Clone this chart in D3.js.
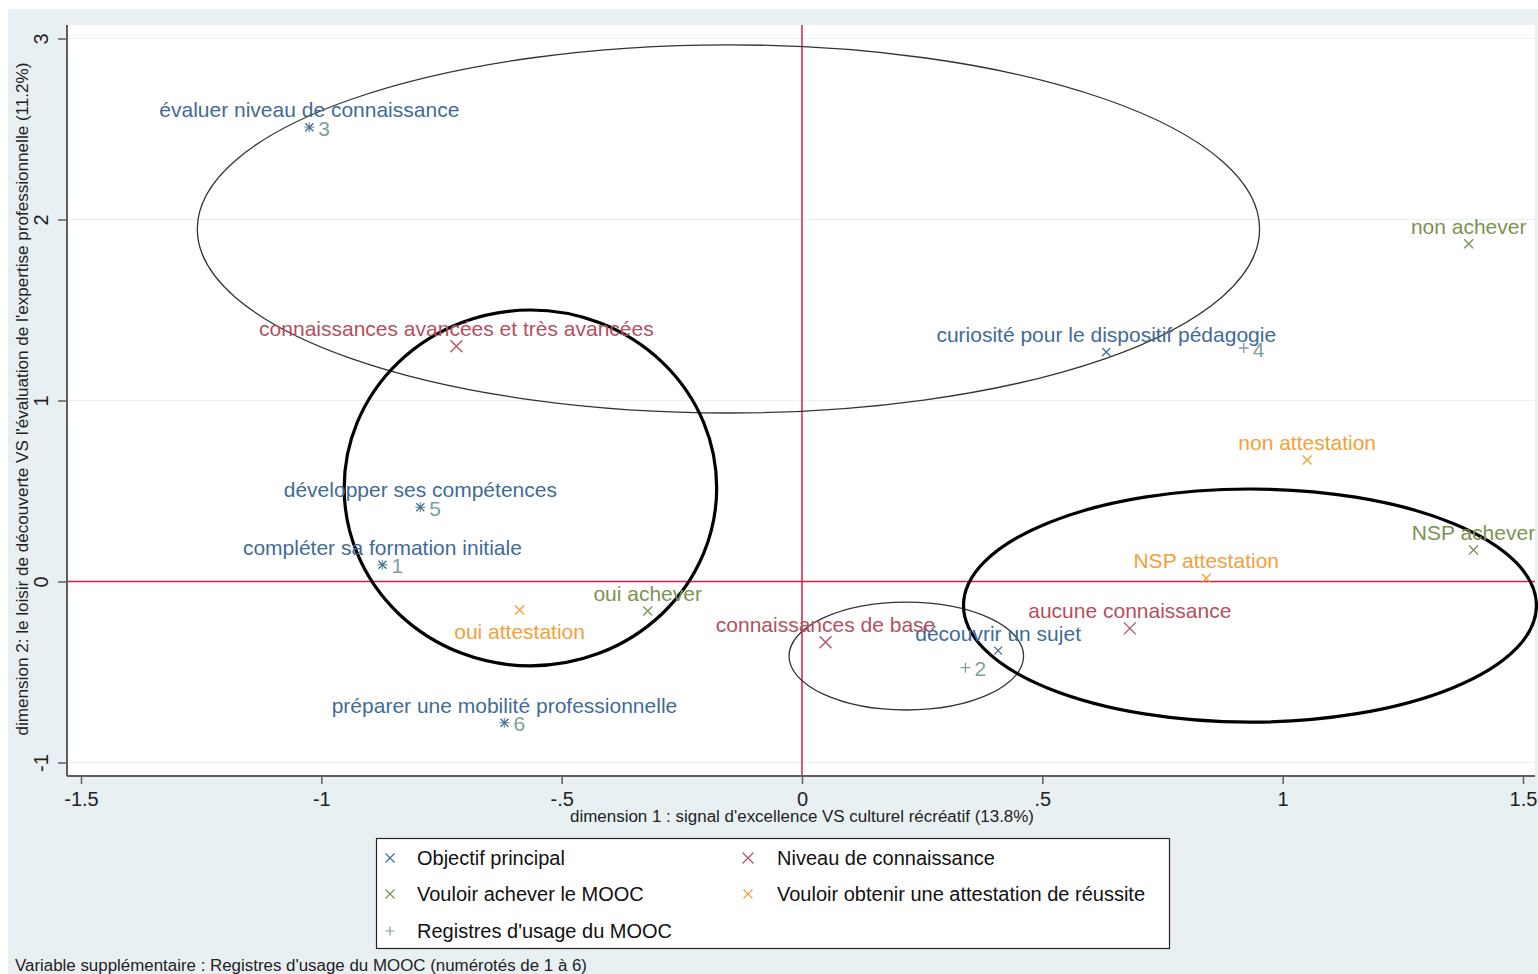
<!DOCTYPE html>
<html>
<head>
<meta charset="utf-8">
<script src="https://cdn.jsdelivr.net/npm/d3@7"></script>
<style>
  html, body { margin: 0; padding: 0; background: #ffffff; }
  svg { display: block; font-family: "Liberation Sans", Arial, sans-serif; }
</style>
</head>
<body>
<svg id="chart" width="1538" height="974"></svg>
<script>
// ---------------- DATA ----------------
const xTicks = [-1.5, -1, -0.5, 0, 0.5, 1, 1.5];
const xTickLabels = ["-1.5", "-1", "-.5", "0", ".5", "1", "1.5"];
const yTicks = [-1, 0, 1, 2, 3];
const yTickLabels = ["-1", "0", "1", "2", "3"];

const objectifLabels = ["évaluer niveau de connaissance", "curiosité pour le dispositif pédagogie",
  "développer ses compétences", "compléter sa formation initiale",
  "préparer une mobilité professionnelle", "découvrir un sujet"];
const objectifX = [-1.025, 0.633, -0.794, -0.873, -0.619, 0.408];
const objectifY = [2.51, 1.268, 0.41, 0.093, -0.78, -0.382];

const niveauLabels = ["connaissances avancées et très avancées", "connaissances de base", "aucune connaissance"];
const niveauX = [-0.719, 0.049, 0.682];
const niveauY = [1.30, -0.336, -0.259];

const acheverLabels = ["non achever", "NSP achever", "oui achever"];
const acheverX = [1.387, 1.397, -0.321];
const acheverY = [1.866, 0.174, -0.163];

const attestLabels = ["non attestation", "NSP attestation", "oui attestation"];
const attestX = [1.051, 0.841, -0.5875];
const attestY = [0.671, 0.018, -0.157];

const registreLabels = ["1", "2", "3", "4", "5", "6"];
const registreX = [-0.873, 0.34, -1.025, 0.919, -0.794, -0.619];
const registreY = [0.093, -0.476, 2.51, 1.29, 0.41, -0.78];

// hand-drawn ellipses (data units): centre x, centre y, radius x, radius y
const ellipseCx = [-0.153, -0.565, 0.217, 0.932];
const ellipseCy = [1.948, 0.517, -0.412, -0.133];
const ellipseRx = [1.105, 0.3875, 0.244, 0.596];
const ellipseRy = [1.017, 0.983, 0.298, 0.644];
const ellipseBold = [false, true, false, true];

const legendLabels = ["Objectif principal", "Vouloir achever le MOOC", "Registres d'usage du MOOC",
  "Niveau de connaissance", "Vouloir obtenir une attestation de réussite"];

const xTitle = "dimension 1 : signal d'excellence VS culturel récréatif (13.8%)";
const yTitle = "dimension 2: le loisir de découverte VS l'évaluation de l'expertise professionnelle (11.2%)";
const footnote = "Variable supplémentaire : Registres d'usage du MOOC (numérotés de 1 à 6)";

// ---------------- STYLE ----------------
const COL = {
  objectif: "#3f6b98",
  niveau: "#b4505f",
  achever: "#7b9350",
  attest: "#f2a03c",
  registre: "#7f9f9c",
  ref: "#d81e48",
  axis: "#5e5e5e",
  bg: "#e9f0f3",
  grid: "#e8f1f3"
};

const svg = d3.select("#chart");

// outer background
svg.append("rect").attr("x", 8).attr("y", 9).attr("width", 1530).attr("height", 965).attr("fill", COL.bg);

// plot region
const plotL = 67, plotR = 1535, plotT = 25, plotB = 776;
svg.append("rect").attr("x", plotL).attr("y", plotT).attr("width", plotR - plotL).attr("height", plotB - plotT)
  .attr("fill", "#ffffff");

const x = d3.scaleLinear().domain([-1.5, 1.5]).range([81, 1523]);
const y = d3.scaleLinear().domain([-1, 3]).range([762.5, 38.5]);

// grid lines
svg.append("g").selectAll("line").data(yTicks).join("line")
  .attr("x1", plotL).attr("x2", plotR)
  .attr("y1", d => y(d)).attr("y2", d => y(d))
  .attr("stroke", COL.grid).attr("stroke-width", 1.2);

// reference lines
svg.append("line").attr("x1", plotL).attr("x2", plotR).attr("y1", y(0)).attr("y2", y(0))
  .attr("stroke", COL.ref).attr("stroke-width", 1.5);
svg.append("line").attr("x1", x(0)).attr("x2", x(0)).attr("y1", plotT).attr("y2", plotB)
  .attr("stroke", COL.ref).attr("stroke-width", 1.5);

// axes
const xAxis = d3.axisBottom(x).tickValues(xTicks).tickFormat((d, i) => xTickLabels[i]).tickSizeOuter(0).tickSize(8).tickPadding(8);
const gx = svg.append("g").attr("transform", `translate(0,${plotB})`).call(xAxis);
gx.select(".domain").remove();
gx.selectAll(".tick line").attr("stroke", COL.axis).attr("stroke-width", 1.5);
gx.selectAll(".tick text").attr("fill", "#222").attr("font-size", 20).attr("font-family", "Liberation Sans, Arial, sans-serif");
svg.append("line").attr("x1", plotL).attr("x2", plotR).attr("y1", plotB).attr("y2", plotB)
  .attr("stroke", COL.axis).attr("stroke-width", 2);

const yAxis = d3.axisLeft(y).tickValues(yTicks).tickFormat((d, i) => yTickLabels[i]).tickSizeOuter(0).tickSize(9).tickPadding(0);
const gy = svg.append("g").attr("transform", `translate(${plotL},0)`).call(yAxis);
gy.select(".domain").remove();
gy.selectAll(".tick line").attr("stroke", COL.axis).attr("stroke-width", 1.5);
gy.selectAll(".tick text").attr("fill", "#222").attr("font-size", 20)
  .attr("font-family", "Liberation Sans, Arial, sans-serif")
  .attr("x", null).attr("dy", null)
  .attr("text-anchor", "middle")
  .attr("transform", "translate(-26,0) rotate(-90)")
  .attr("y", 0).attr("dominant-baseline", "central");
svg.append("line").attr("x1", plotL).attr("x2", plotL).attr("y1", plotT).attr("y2", plotB)
  .attr("stroke", COL.axis).attr("stroke-width", 2);

// axis titles
svg.append("text").attr("x", 802).attr("y", 822).attr("text-anchor", "middle")
  .attr("font-size", 16).attr("fill", "#222").attr("textLength", 464).attr("lengthAdjust", "spacingAndGlyphs")
  .text(xTitle);
svg.append("text").attr("transform", "translate(28,399) rotate(-90)").attr("text-anchor", "middle")
  .attr("font-size", 16).attr("fill", "#222").attr("textLength", 673).attr("lengthAdjust", "spacingAndGlyphs")
  .text(yTitle);

// ellipses
const ellipses = ellipseCx.map((cx, i) => ({cx, cy: ellipseCy[i], rx: ellipseRx[i], ry: ellipseRy[i], bold: ellipseBold[i]}));
svg.append("g").selectAll("ellipse").data(ellipses).join("ellipse")
  .attr("cx", d => x(d.cx)).attr("cy", d => y(d.cy))
  .attr("rx", d => x(d.rx) - x(0)).attr("ry", d => y(0) - y(d.ry))
  .attr("fill", "none")
  .attr("stroke", d => d.bold ? "#000" : "#333")
  .attr("stroke-width", d => d.bold ? 3.2 : 1.3);

// marker helpers
function crossPath(s) { return `M${-s},${-s}L${s},${s}M${-s},${s}L${s},${-s}`; }
function plusPath(s) { return `M${-s},0L${s},0M0,${-s}L0,${s}`; }

function drawSeries(labels, xs, ys, color, size, labelBelow) {
  const data = labels.map((l, i) => ({l, x: xs[i], y: ys[i]}));
  const g = svg.append("g");
  g.selectAll("path").data(data).join("path")
    .attr("transform", d => `translate(${x(d.x)},${y(d.y)})`)
    .attr("d", crossPath(size)).attr("stroke", color).attr("stroke-width", 1.3).attr("fill", "none");
  g.selectAll("text").data(data).join("text")
    .attr("x", d => x(d.x))
    .attr("y", d => y(d.y) + (labelBelow.includes(d.l) ? 29 : -10))
    .attr("text-anchor", "middle").attr("font-size", 21).attr("fill", color)
    .text(d => d.l);
}

// registres (supplementary)
const regData = registreLabels.map((l, i) => ({l, x: registreX[i], y: registreY[i]}));
const gr = svg.append("g");
gr.selectAll("path").data(regData).join("path")
  .attr("transform", d => `translate(${x(d.x)},${y(d.y)})`)
  .attr("d", plusPath(5)).attr("stroke", COL.registre).attr("stroke-width", 1.3);
gr.selectAll("text").data(regData).join("text")
  .attr("x", d => x(d.x) + 9).attr("y", d => y(d.y) + 8.5)
  .attr("font-size", 21).attr("fill", COL.registre).text(d => d.l);

drawSeries(objectifLabels, objectifX, objectifY, COL.objectif, 4, []);
drawSeries(niveauLabels, niveauX, niveauY, COL.niveau, 6, []);
drawSeries(acheverLabels, acheverX, acheverY, COL.achever, 4.5, []);
drawSeries(attestLabels, attestX, attestY, COL.attest, 4.5, ["oui attestation"]);

// legend
const lg = svg.append("g");
lg.append("rect").attr("x", 376.5).attr("y", 838.5).attr("width", 793).attr("height", 110)
  .attr("fill", "#fff").attr("stroke", "#222").attr("stroke-width", 1.2);
const legendItems = [
  {l: legendLabels[0], c: COL.objectif, m: "x", mx: 390, ty: 858},
  {l: legendLabels[1], c: COL.achever, m: "x", mx: 390, ty: 894},
  {l: legendLabels[2], c: COL.registre, m: "+", mx: 390, ty: 931},
  {l: legendLabels[3], c: COL.niveau, m: "x", mx: 748, ty: 858},
  {l: legendLabels[4], c: COL.attest, m: "x", mx: 748, ty: 894}
];
lg.selectAll("path").data(legendItems).join("path")
  .attr("transform", d => `translate(${d.mx},${d.ty})`)
  .attr("d", d => d.m === "+" ? plusPath(4.5) : crossPath(d.c === COL.niveau ? 5.5 : 4.5))
  .attr("stroke", d => d.c).attr("stroke-width", 1.2).attr("fill", "none");
lg.selectAll("text").data(legendItems).join("text")
  .attr("x", d => d.mx + (d.mx > 500 ? 29 : 27)).attr("y", d => d.ty + 7)
  .attr("font-size", 20).attr("fill", "#111").text(d => d.l);

// footnote
svg.append("text").attr("x", 15).attr("y", 971).attr("font-size", 16).attr("fill", "#222")
  .attr("textLength", 572).attr("lengthAdjust", "spacingAndGlyphs").text(footnote);
</script>
</body>
</html>
